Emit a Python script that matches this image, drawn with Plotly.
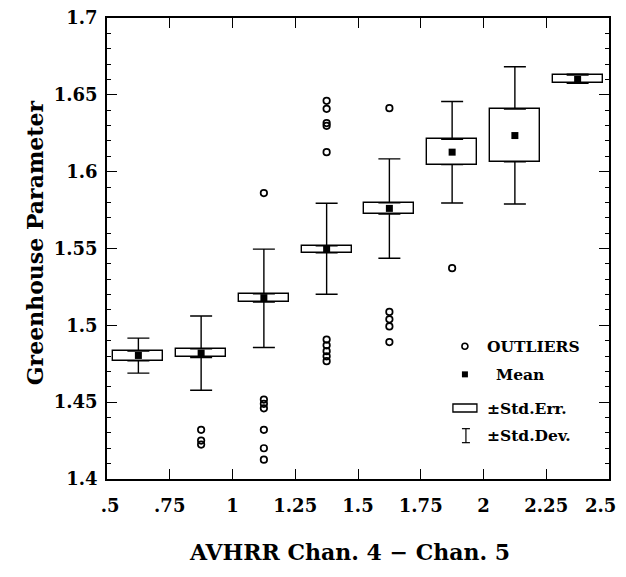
import plotly.graph_objects as go

# ---- data ----
bin_centers = [0.625, 0.875, 1.125, 1.375, 1.625, 1.875, 2.125, 2.375]
mean_vals   = [1.4804, 1.4819, 1.5180, 1.5496, 1.5761, 1.6127, 1.6235, 1.6600]
se_low      = [1.4770, 1.4791, 1.5152, 1.5472, 1.5724, 1.6046, 1.6065, 1.6577]
se_high     = [1.4832, 1.4848, 1.5205, 1.5517, 1.5798, 1.6211, 1.6407, 1.6629]
sd_low      = [1.4689, 1.4578, 1.4856, 1.5202, 1.5437, 1.5796, 1.5790, 1.6575]
sd_high     = [1.4917, 1.5061, 1.5496, 1.5794, 1.6083, 1.6457, 1.6683, 1.6635]

outlier_x = [0.875, 0.875, 0.875,
             1.125, 1.125, 1.125, 1.125, 1.125, 1.125, 1.125,
             1.375, 1.375, 1.375, 1.375, 1.375,
             1.375, 1.375, 1.375, 1.375, 1.375,
             1.625, 1.625, 1.625, 1.625, 1.625,
             1.875]
outlier_y = [1.4320, 1.4250, 1.4224,
             1.5861, 1.4517, 1.4489, 1.4460, 1.4320, 1.4200, 1.4126,
             1.6461, 1.6409, 1.6316, 1.6298, 1.6127,
             1.4907, 1.4870, 1.4832, 1.4798, 1.4767,
             1.6413, 1.5087, 1.5039, 1.4993, 1.4891,
             1.5372]

x_tickvals = [0.5, 0.75, 1.0, 1.25, 1.5, 1.75, 2.0, 2.25, 2.5]
x_ticktext = ["\u00a0.5", ".75", "1", "1.25", "1.5", "1.75", "2", "2.25", "2.5"]
y_tickvals = [1.4, 1.45, 1.5, 1.55, 1.6, 1.65, 1.7]
y_ticktext = ["1.4", "1.45", "1.5", "1.55", "1.6", "1.65", "1.7"]

legend_labels = ["OUTLIERS", "Mean", "\u00b1Std.Err.", "\u00b1Std.Dev."]
x_title = "AVHRR Chan. 4 \u2212 Chan. 5"
y_title = "Greenhouse Parameter"

# ---- figure ----
SERIF = "DejaVu Serif"
fig = go.Figure()

# Std.Err. boxes as bars
fig.add_trace(go.Bar(
    x=bin_centers,
    y=[h - l for h, l in zip(se_high, se_low)],
    base=se_low,
    width=0.2,
    marker=dict(color="white", line=dict(color="black", width=1.4)),
    showlegend=False, hoverinfo="skip",
))

# upper whiskers (from box top to +Std.Dev.)
fig.add_trace(go.Scatter(
    x=bin_centers, y=se_high, mode="markers",
    marker=dict(size=1, color="rgba(0,0,0,0)"),
    error_y=dict(type="data", symmetric=False,
                 array=[h - t for h, t in zip(sd_high, se_high)],
                 arrayminus=[0] * len(bin_centers),
                 width=11, thickness=1.4, color="black"),
    showlegend=False, hoverinfo="skip",
))
# lower whiskers (from box bottom to -Std.Dev.)
fig.add_trace(go.Scatter(
    x=bin_centers, y=se_low, mode="markers",
    marker=dict(size=1, color="rgba(0,0,0,0)"),
    error_y=dict(type="data", symmetric=False,
                 array=[0] * len(bin_centers),
                 arrayminus=[b - l for b, l in zip(se_low, sd_low)],
                 width=11, thickness=1.4, color="black"),
    showlegend=False, hoverinfo="skip",
))

# means
fig.add_trace(go.Scatter(
    x=bin_centers, y=mean_vals, mode="markers",
    marker=dict(symbol="square", size=7, color="black"),
    showlegend=False, hoverinfo="skip",
))

# outliers
fig.add_trace(go.Scatter(
    x=outlier_x, y=outlier_y, mode="markers",
    marker=dict(symbol="circle-open", size=6.5, color="black", line=dict(width=1.7)),
    showlegend=False, hoverinfo="skip",
))

# ---- custom legend ----
shapes = []
annotations = []
leg_x_sym = 0.713
leg_x_txt = 0.752
leg_y = [0.288, 0.227, 0.154, 0.094]

shapes.append(dict(type="circle", xref="paper", yref="paper",
                   xsizemode="pixel", ysizemode="pixel",
                   xanchor=leg_x_sym, yanchor=leg_y[0],
                   x0=-3, x1=3, y0=-3, y1=3,
                   line=dict(color="black", width=1.6), fillcolor="white"))
shapes.append(dict(type="rect", xref="paper", yref="paper",
                   xsizemode="pixel", ysizemode="pixel",
                   xanchor=leg_x_sym, yanchor=leg_y[1],
                   x0=-3, x1=3, y0=-3, y1=3,
                   line=dict(color="black", width=0), fillcolor="black"))
shapes.append(dict(type="rect", xref="paper", yref="paper",
                   xsizemode="pixel", ysizemode="pixel",
                   xanchor=leg_x_sym, yanchor=leg_y[2],
                   x0=-12, x1=12, y0=-4, y1=4,
                   line=dict(color="black", width=1.3), fillcolor="white"))
for (x0, x1, y0, y1) in [(0, 0, -7, 7), (-4, 4, 7, 7), (-4, 4, -7, -7)]:
    shapes.append(dict(type="line", xref="paper", yref="paper",
                       xsizemode="pixel", ysizemode="pixel",
                       xanchor=leg_x_sym + 0.002, yanchor=leg_y[3],
                       x0=x0, x1=x1, y0=y0, y1=y1,
                       line=dict(color="black", width=1.2)))

for i, lab in enumerate(legend_labels):
    annotations.append(dict(
        x=leg_x_txt + (0.018 if i == 1 else 0.0), y=leg_y[i],
        xref="paper", yref="paper", xanchor="left", yanchor="middle",
        text=lab, showarrow=False,
        font=dict(family=SERIF, size=15.5, color="black", weight="bold"),
    ))

# axis titles
annotations.append(dict(
    x=0.484, y=-0.159, xref="paper", yref="paper",
    xanchor="center", yanchor="middle", text=x_title, showarrow=False,
    font=dict(family=SERIF, size=22, color="black", weight="bold"),
))
annotations.append(dict(
    x=-0.1434, y=0.5116, xref="paper", yref="paper", textangle=-90,
    xanchor="center", yanchor="middle", text=y_title, showarrow=False,
    font=dict(family=SERIF, size=22, color="black", weight="bold"),
))

# last x tick label, nudged inward so it is not clipped at the window edge
annotations.append(dict(
    x=0.984, y=-0.057, xref="paper", yref="paper",
    xanchor="center", yanchor="middle", text=x_ticktext[-1], showarrow=False,
    font=dict(family=SERIF, size=18, color="black", weight="bold"),
))
x_ticktext_axis = x_ticktext[:-1] + [""]

# the page body adds an 8px margin at top/left, so the figure is 8px smaller
fig.update_layout(
    width=618, height=569,
    margin=dict(l=99, r=17, t=10, b=98),
    plot_bgcolor="white", paper_bgcolor="white",
    shapes=shapes, annotations=annotations,
    showlegend=False,
    bargap=0,
)

fig.update_xaxes(
    range=[0.5, 2.5], tickvals=x_tickvals, ticktext=x_ticktext_axis,
    ticks="inside", ticklen=10, tickwidth=1.3, tickcolor="black",
    showline=True, linecolor="black", linewidth=1.5, mirror="ticks",
    showgrid=False, zeroline=False, automargin=False,
    tickfont=dict(family=SERIF, size=18, color="black", weight="bold"),
    ticklabelstandoff=10, ticklabeloverflow="allow",
)
fig.update_yaxes(
    range=[1.4, 1.7], tickvals=y_tickvals, ticktext=y_ticktext,
    ticks="inside", ticklen=10, tickwidth=1.3, tickcolor="black",
    minor=dict(dtick=0.01, ticks="inside", ticklen=4, tickwidth=1.1, tickcolor="black"),
    showline=True, linecolor="black", linewidth=1.5, mirror="ticks",
    showgrid=False, zeroline=False, automargin=False,
    tickfont=dict(family=SERIF, size=18, color="black", weight="bold"),
    ticklabelstandoff=4, ticklabeloverflow="allow",
)

fig.write_html("out.html")
